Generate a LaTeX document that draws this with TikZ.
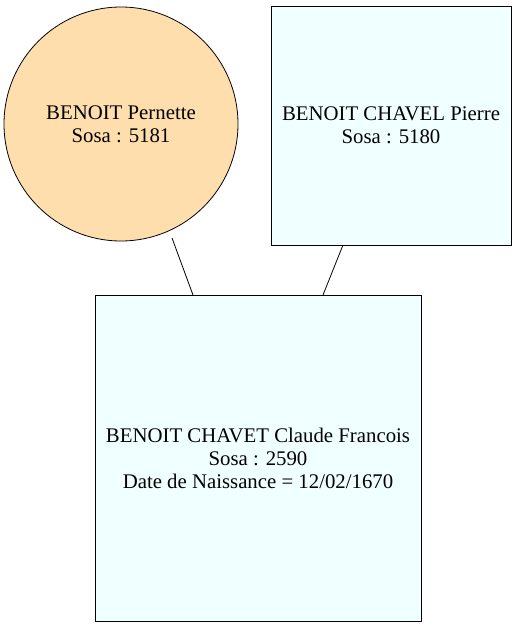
\documentclass[tikz,border=0pt]{standalone}
\usepackage{fontspec}
\setmainfont{Liberation Serif}
\begin{document}
\begin{tikzpicture}[x=1pt,y=-1pt,
  person/.style={draw=black, line width=0.8pt, align=center, font=\fontsize{20.8}{23}\selectfont, inner sep=0pt},
  boxnode/.style={person, rectangle, fill=azure},
  circnode/.style={person, circle, fill=navaj},
  link/.style={draw=black, line width=0.8pt}]
\definecolor{azure}{HTML}{F0FFFF}
\definecolor{navaj}{HTML}{FFDEAD}
\useasboundingbox (0,0) rectangle (517,627);
\node[circnode, minimum size=234pt] (p) at (121,124) {BENOIT Pernette\\Sosa : 5181};
\node[boxnode, minimum width=240pt, minimum height=239pt] (f) at (391,125.5) {BENOIT CHAVEL Pierre\\Sosa : 5180};
\node[boxnode, minimum width=326pt, minimum height=326pt] (c) at (258,458) {BENOIT CHAVET Claude Francois\\Sosa : 2590\\Date de Naissance = 12/02/1670};
\coordinate (pe) at (172,238);
\coordinate (ce1) at (193,295);
\coordinate (fe) at (343,245);
\coordinate (ce2) at (323,295);
\draw[link] (pe) -- (ce1);
\draw[link] (fe) -- (ce2);
\end{tikzpicture}
\end{document}
